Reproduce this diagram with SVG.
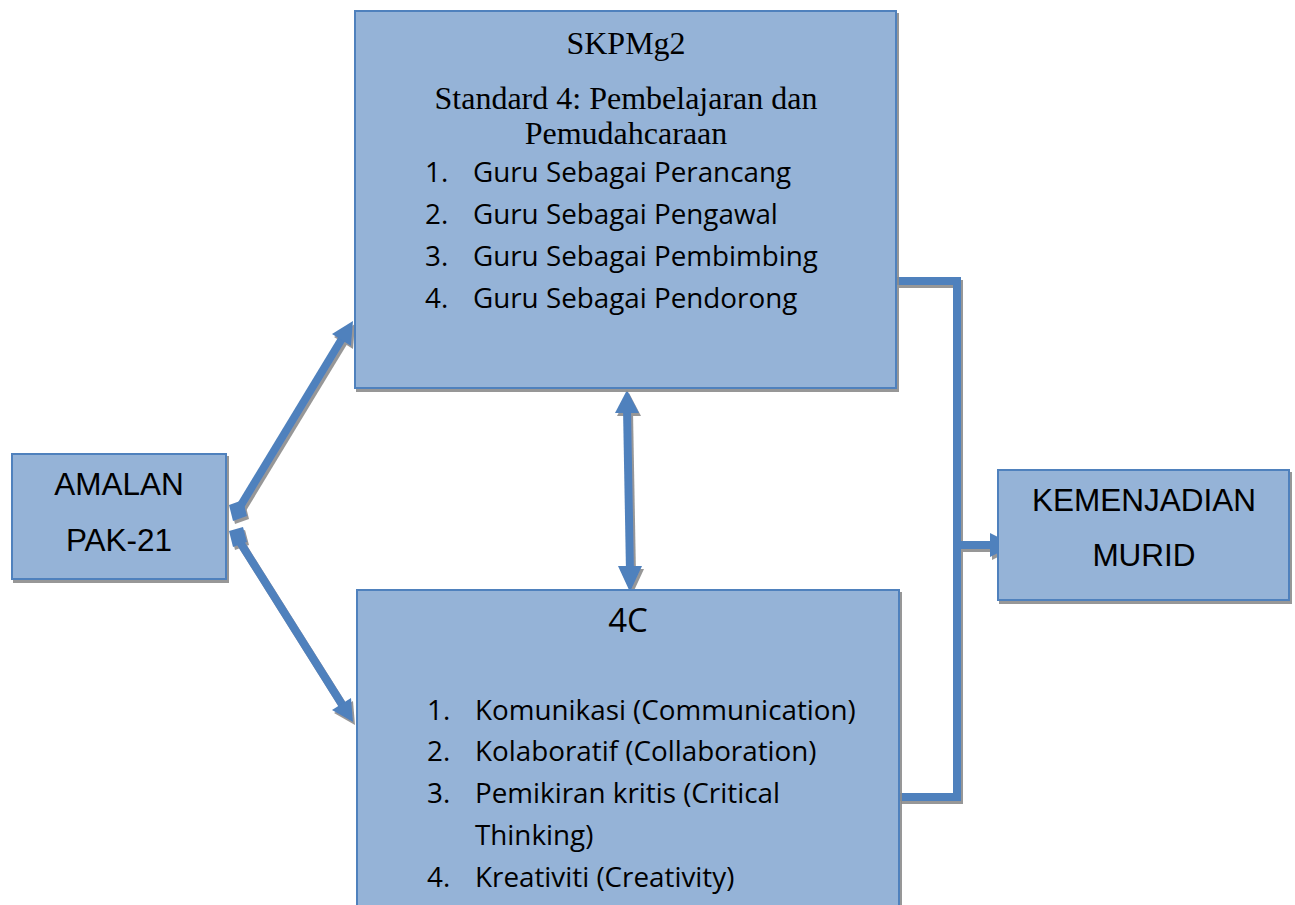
<svg xmlns="http://www.w3.org/2000/svg" width="1295" height="905" viewBox="0 0 1295 905">
<style>
.box{fill:#95b3d7;stroke:#4f81bd;stroke-width:2}
.serif{font-family:"Liberation Serif","Times New Roman",serif;font-size:32px;fill:#000}
.cal{font-family:"Open Sans","Noto Sans",sans-serif;font-size:27.8px;fill:#000}
.big{font-size:33px}
.arial{font-family:"Liberation Sans",Arial,sans-serif;font-size:31.5px;fill:#000}
.conn{fill:none;stroke:#4f81bd;stroke-width:8}
.head{fill:#4f81bd}
</style>
<defs>
<filter id="sh" x="-10%" y="-10%" width="130%" height="130%">
<feDropShadow dx="2" dy="3" stdDeviation="0.6" flood-color="#8c8c8c" flood-opacity="0.9"/>
</filter>
</defs>
<rect width="1295" height="905" fill="#fff"/>
<g id="connectors" filter="url(#sh)">
<line class="conn" x1="238" y1="510" x2="343" y2="337"/>
<polygon class="head" points="353,321 332,334 351,346"/>
<polygon class="head" points="229,505 243,500 247,516 233,521"/>
<line class="conn" x1="238" y1="539" x2="343" y2="706"/>
<polygon class="head" points="353,722 332,710 351,698"/>
<polygon class="head" points="229,531 243,527 247,542 233,547"/>
<line class="conn" x1="627" y1="408" x2="630" y2="572"/>
<polygon class="head" points="627,390 615,413 639,413"/>
<polygon class="head" points="630,592 618,566 642,566"/>
<polyline class="conn" points="897,281 957,281 957,797 899,797"/>
<line class="conn" x1="957" y1="545" x2="996" y2="545"/>
<polygon class="head" points="1014,545 990,533 990,557"/>
</g>
<g id="skpmg2">
<rect class="box" x="355" y="11" width="541" height="377" filter="url(#sh)"/>
<text class="serif" x="626" y="54" text-anchor="middle">SKPMg2</text>
<text class="serif" x="626" y="109" text-anchor="middle">Standard 4: Pembelajaran dan</text>
<text class="serif" x="626" y="144" text-anchor="middle">Pemudahcaraan</text>
<text class="cal" x="425" y="182">1.</text><text class="cal" x="473" y="182">Guru Sebagai Perancang</text>
<text class="cal" x="425" y="224">2.</text><text class="cal" x="473" y="224">Guru Sebagai Pengawal</text>
<text class="cal" x="425" y="266">3.</text><text class="cal" x="473" y="266">Guru Sebagai Pembimbing</text>
<text class="cal" x="425" y="308">4.</text><text class="cal" x="473" y="308">Guru Sebagai Pendorong</text>
</g>
<g id="amalan">
<rect class="box" x="12" y="454" width="214" height="125" filter="url(#sh)"/>
<text class="arial" x="119" y="495" text-anchor="middle">AMALAN</text>
<text class="arial" x="119" y="551" text-anchor="middle">PAK-21</text>
</g>
<g id="fourc">
<rect class="box" x="357" y="590" width="542" height="330" filter="url(#sh)"/>
<text class="cal big" x="628" y="632" text-anchor="middle">4C</text>
<text class="cal" x="427" y="720">1.</text><text class="cal" x="475" y="720">Komunikasi (Communication)</text>
<text class="cal" x="427" y="761">2.</text><text class="cal" x="475" y="761">Kolaboratif (Collaboration)</text>
<text class="cal" x="427" y="803">3.</text><text class="cal" x="475" y="803">Pemikiran kritis (Critical</text>
<text class="cal" x="475" y="845">Thinking)</text>
<text class="cal" x="427" y="887">4.</text><text class="cal" x="475" y="887">Kreativiti (Creativity)</text>
</g>
<g id="kemenjadian">
<rect class="box" x="998" y="470" width="291" height="130" filter="url(#sh)"/>
<text class="arial" x="1144" y="511" text-anchor="middle">KEMENJADIAN</text>
<text class="arial" x="1144" y="566" text-anchor="middle">MURID</text>
</g>
</svg>
